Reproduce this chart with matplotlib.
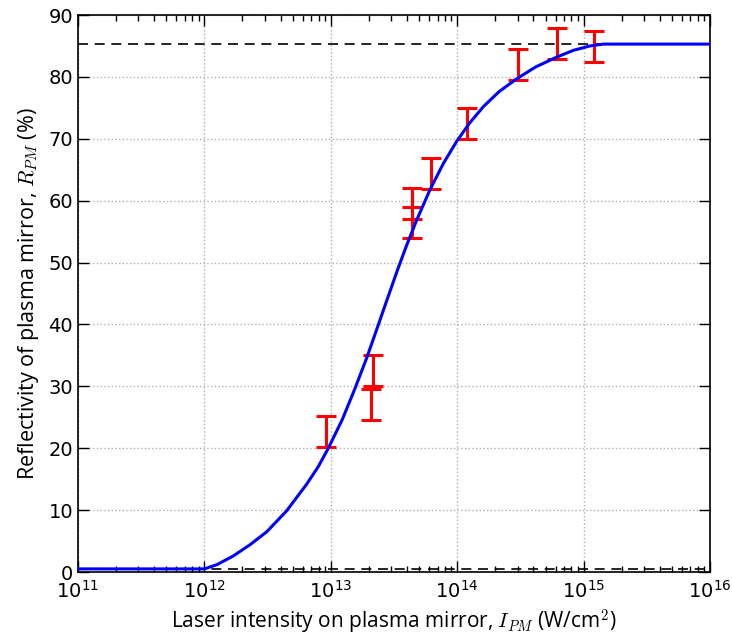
import matplotlib
matplotlib.use('Agg')
import matplotlib.pyplot as plt
from matplotlib.ticker import LogLocator, MultipleLocator

plt.rcParams['mathtext.fontset'] = 'cm'

# model curve, intensity in W/cm^2, reflectivity in %
curve_I = [1e11, 1e12, 1.259e12, 1.694e12, 2.291e12, 3.112e12, 4.477e12,
           6.442e12, 7.943e12, 9.550e12, 1.230e13, 1.549e13, 1.923e13,
           2.307e13, 2.818e13, 3.381e13, 3.981e13, 4.786e13, 6.095e13,
           7.762e13, 9.908e13, 1.259e14, 1.611e14, 2.138e14, 2.958e14,
           4.169e14, 6.124e14, 8.318e14, 1.122e15, 1.432e15, 1e16]
curve_R = [0.5, 0.5, 1.2, 2.6, 4.4, 6.5, 9.9,
           14.2, 17.0, 20.0, 24.6, 29.6, 34.6,
           39.2, 44.3, 48.9, 52.8, 56.9, 61.8,
           66.0, 69.6, 72.6, 75.2, 77.6, 79.7,
           81.6, 83.2, 84.3, 85.0, 85.3, 85.3]

# measured points with error bars
meas_I = [9.2e12, 2.07e13, 2.14e13, 4.4e13, 4.4e13, 6.2e13, 1.2e14, 3.0e14, 6.2e14, 1.2e15]
meas_R = [22.75, 27.0, 32.5, 56.45, 59.5, 64.4, 72.4, 82.0, 85.4, 84.9]
meas_err = [2.5, 2.5, 2.5, 2.5, 2.5, 2.5, 2.5, 2.5, 2.5, 2.5]

R_max = 85.3
R_min = 0.5

fig = plt.figure(figsize=(7.32, 6.44), dpi=100)
ax = fig.add_axes([0.1066, 0.1118, 0.8634, 0.8649])

ax.axhline(R_max, color='black', ls='--', lw=1.2, dashes=(6, 4), zorder=2)
ax.axhline(R_min, color='black', ls='--', lw=1.2, dashes=(6, 4), zorder=2)
ax.errorbar(meas_I, meas_R, yerr=meas_err, fmt='none', ecolor='red',
            elinewidth=2.2, capsize=7, capthick=2.2, zorder=3)
ax.plot(curve_I, curve_R, color='blue', lw=2.2, zorder=4)

ax.set_xscale('log')
ax.set_xlim(1e11, 1e16)
ax.set_ylim(0, 90)
ax.yaxis.set_major_locator(MultipleLocator(10))
ax.xaxis.set_major_locator(LogLocator(base=10, numticks=10))
ax.grid(True, which='major', color='#b0b0b0', ls=':', lw=1)

ax.tick_params(which='both', direction='in', top=True, right=True, labelsize=14)
ax.tick_params(which='major', length=8, width=1)
ax.tick_params(which='minor', length=4, width=1)
ax.tick_params(axis='x', pad=6)
for s in ax.spines.values():
    s.set_linewidth(1.2)

ax.set_xlabel(r'Laser intensity on plasma mirror, $I_{PM}$ (W/cm$^2$)',
              fontsize=15, family='Open Sans', labelpad=4)
ax.set_ylabel(r'Reflectivity of plasma mirror, $R_{PM}$ (%)',
              fontsize=15.5, family='Open Sans', labelpad=5)

fig.savefig('out.png', dpi=100)
